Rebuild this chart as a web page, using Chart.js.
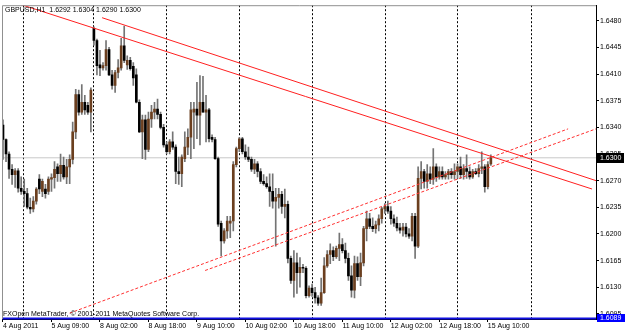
<!DOCTYPE html>
<html><head><meta charset="utf-8">
<script src="https://cdn.jsdelivr.net/npm/chart.js@4.4.0/dist/chart.umd.min.js"></script>
<style>html,body{margin:0;padding:0;background:#fff;}canvas{display:block;}</style>
</head><body>
<canvas id="c" width="625" height="332"></canvas>
<script>
const symbol = "GBPUSD,H1";
const copyright = "FXOpen MetaTrader, \u00A9 2001-2011 MetaQuotes Software Corp.";

const opens = [1.6343,1.6324,1.6305,1.6285,1.6278,1.6283,1.6260,1.6256,1.6253,1.6235,
1.6233,1.6243,1.6272,1.6256,1.6259,1.6256,1.6272,1.6274,1.6288,1.6279,
1.6290,1.6275,1.6288,1.6298,1.6334,1.6383,1.6360,1.6373,1.6369,1.6360,
1.6470,1.6454,1.6422,1.6418,1.6421,1.6442,1.6409,1.6395,1.6412,1.6418,
1.6447,1.6422,1.6428,1.6420,1.6409,1.6373,1.6334,1.6350,1.6311,1.6351,
1.6360,1.6364,1.6357,1.6340,1.6317,1.6308,1.6321,1.6314,1.6282,1.6279,
1.6299,1.6314,1.6327,1.6360,1.6364,1.6356,1.6373,1.6360,1.6363,1.6327,
1.6324,1.6299,1.6214,1.6191,1.6204,1.6214,1.6217,1.6291,1.6312,1.6325,
1.6308,1.6301,1.6298,1.6285,1.6292,1.6282,1.6269,1.6266,1.6262,1.6256,
1.6243,1.6248,1.6252,1.6236,1.6239,1.6168,1.6139,1.6162,1.6149,1.6156,
1.6155,1.6119,1.6129,1.6123,1.6116,1.6109,1.6123,1.6158,1.6173,1.6178,
1.6170,1.6181,1.6186,1.6178,1.6168,1.6145,1.6126,1.6161,1.6144,1.6162,
1.6207,1.6220,1.6210,1.6207,1.6212,1.6220,1.6233,1.6236,1.6230,1.6220,
1.6214,1.6208,1.6205,1.6209,1.6200,1.6197,1.6223,1.6184,1.6273,1.6282,
1.6269,1.6279,1.6272,1.6288,1.6275,1.6282,1.6275,1.6278,1.6282,1.6278,
1.6282,1.6288,1.6278,1.6286,1.6282,1.6275,1.6282,1.6279,1.6286,1.6288,
1.6262,1.6292];
const highs = [1.6350,1.6325,1.6308,1.6291,1.6286,1.6286,1.6275,1.6272,1.6260,1.6247,
1.6249,1.6261,1.6278,1.6272,1.6265,1.6275,1.6279,1.6295,1.6292,1.6305,
1.6301,1.6298,1.6304,1.6347,1.6390,1.6389,1.6396,1.6382,1.6373,1.6392,
1.6472,1.6456,1.6441,1.6425,1.6454,1.6445,1.6415,1.6415,1.6429,1.6457,
1.6473,1.6434,1.6432,1.6425,1.6417,1.6376,1.6356,1.6356,1.6360,1.6369,
1.6373,1.6377,1.6360,1.6344,1.6321,1.6324,1.6334,1.6317,1.6301,1.6304,
1.6334,1.6338,1.6373,1.6373,1.6399,1.6408,1.6407,1.6382,1.6365,1.6330,
1.6327,1.6301,1.6217,1.6207,1.6223,1.6223,1.6295,1.6314,1.6327,1.6327,
1.6317,1.6314,1.6301,1.6298,1.6295,1.6286,1.6278,1.6275,1.6279,1.6279,
1.6260,1.6260,1.6256,1.6259,1.6243,1.6171,1.6178,1.6175,1.6169,1.6160,
1.6157,1.6132,1.6134,1.6130,1.6119,1.6142,1.6169,1.6178,1.6187,1.6183,
1.6184,1.6201,1.6194,1.6188,1.6175,1.6158,1.6171,1.6170,1.6175,1.6210,
1.6230,1.6227,1.6221,1.6217,1.6225,1.6235,1.6240,1.6243,1.6236,1.6225,
1.6222,1.6214,1.6214,1.6214,1.6207,1.6227,1.6227,1.6288,1.6295,1.6285,
1.6291,1.6288,1.6312,1.6292,1.6288,1.6288,1.6282,1.6285,1.6286,1.6292,
1.6292,1.6301,1.6291,1.6304,1.6288,1.6285,1.6286,1.6291,1.6308,1.6291,
1.6295,1.6304];
const lows = [1.6298,1.6295,1.6273,1.6265,1.6261,1.6255,1.6252,1.6236,1.6233,1.6227,
1.6229,1.6239,1.6253,1.6249,1.6247,1.6252,1.6256,1.6260,1.6269,1.6269,
1.6272,1.6266,1.6266,1.6292,1.6325,1.6356,1.6357,1.6357,1.6357,1.6334,
1.6448,1.6409,1.6408,1.6415,1.6415,1.6408,1.6390,1.6386,1.6405,1.6415,
1.6425,1.6416,1.6415,1.6395,1.6372,1.6333,1.6299,1.6298,1.6308,1.6340,
1.6351,1.6351,1.6338,1.6314,1.6305,1.6305,1.6311,1.6266,1.6265,1.6262,
1.6295,1.6304,1.6299,1.6312,1.6325,1.6317,1.6360,1.6321,1.6321,1.6321,
1.6298,1.6210,1.6171,1.6188,1.6194,1.6195,1.6204,1.6288,1.6308,1.6305,
1.6298,1.6295,1.6282,1.6279,1.6275,1.6266,1.6264,1.6260,1.6236,1.6234,
1.6184,1.6234,1.6227,1.6221,1.6162,1.6135,1.6117,1.6122,1.6130,1.6149,
1.6116,1.6117,1.6118,1.6109,1.6106,1.6106,1.6122,1.6156,1.6161,1.6165,
1.6168,1.6165,1.6175,1.6162,1.6139,1.6117,1.6116,1.6139,1.6132,1.6158,
1.6191,1.6207,1.6203,1.6201,1.6204,1.6214,1.6227,1.6227,1.6213,1.6210,
1.6204,1.6201,1.6197,1.6196,1.6194,1.6191,1.6168,1.6182,1.6259,1.6260,
1.6260,1.6266,1.6265,1.6269,1.6272,1.6272,1.6272,1.6272,1.6273,1.6272,
1.6273,1.6273,1.6272,1.6273,1.6272,1.6273,1.6278,1.6275,1.6279,1.6255,
1.6259,1.6290];
const closes = [1.6324,1.6305,1.6285,1.6278,1.6283,1.6260,1.6256,1.6253,1.6235,1.6233,
1.6243,1.6259,1.6259,1.6269,1.6253,1.6272,1.6274,1.6285,1.6279,1.6290,
1.6275,1.6288,1.6298,1.6334,1.6383,1.6360,1.6373,1.6363,1.6360,1.6389,
1.6454,1.6421,1.6418,1.6421,1.6442,1.6409,1.6395,1.6412,1.6418,1.6447,
1.6428,1.6428,1.6417,1.6405,1.6373,1.6334,1.6350,1.6311,1.6351,1.6360,
1.6364,1.6357,1.6340,1.6317,1.6308,1.6321,1.6314,1.6282,1.6279,1.6301,
1.6314,1.6327,1.6363,1.6364,1.6356,1.6373,1.6360,1.6363,1.6325,1.6324,
1.6299,1.6213,1.6191,1.6204,1.6217,1.6217,1.6291,1.6312,1.6325,1.6308,
1.6301,1.6298,1.6285,1.6292,1.6282,1.6269,1.6266,1.6262,1.6256,1.6243,
1.6248,1.6252,1.6236,1.6239,1.6168,1.6139,1.6162,1.6149,1.6156,1.6155,
1.6119,1.6129,1.6123,1.6116,1.6109,1.6123,1.6158,1.6173,1.6178,1.6170,
1.6181,1.6186,1.6178,1.6168,1.6145,1.6126,1.6161,1.6144,1.6162,1.6207,
1.6220,1.6210,1.6207,1.6212,1.6220,1.6233,1.6236,1.6230,1.6220,1.6214,
1.6208,1.6205,1.6209,1.6200,1.6197,1.6223,1.6184,1.6273,1.6282,1.6269,
1.6279,1.6272,1.6288,1.6275,1.6282,1.6275,1.6278,1.6282,1.6278,1.6282,
1.6288,1.6278,1.6286,1.6282,1.6275,1.6282,1.6279,1.6286,1.6288,1.6262,
1.6291,1.6300];

const xTickIndex = [0,16,32,48,64,80,96,112,128,144,160];
const xTickLabels = ["4 Aug 2011","5 Aug 09:00","8 Aug 02:00","8 Aug 18:00","9 Aug 10:00","10 Aug 02:00","10 Aug 18:00","11 Aug 10:00","12 Aug 02:00","12 Aug 18:00","15 Aug 10:00"];
const yTickValues = [1.6095,1.6130,1.6165,1.6200,1.6235,1.6270,1.6305,1.6340,1.6375,1.6410,1.6445,1.6480];
const gridIndex = [6.7,29.8,53.8,78,102,126.2,150.1,174.5];

// drawn objects (bar index, price)
const trendSolidA = [{x:3, y:1.6505},{x:194.4, y:1.6259}];
const trendSolidB = [{x:32.7, y:1.6484},{x:195.7, y:1.6270}];
const trendDashC  = [{x:22, y:1.6096},{x:186.5, y:1.6338}];
const trendDashD  = [{x:66.7, y:1.6152},{x:195.7, y:1.6338}];
const hLinePrice = 1.6089;

const xMin = -0.33, xMax = 195.7;
const yMin = 1.60883, yMax = 1.65004;

const FONT = '"Liberation Sans", Arial, sans-serif';
const BULL = '#6b3f1f', BEAR = '#000000', WICK = '#747474';
const last = closes.length - 1;
const idx = closes.map((_, i) => i);

const overlay = {
  id: 'overlay',
  afterDraw(chart) {
    const {ctx, chartArea: a, scales: {y}} = chart;
    ctx.save();
    ctx.strokeStyle = '#909090'; ctx.lineWidth = 1;
    ctx.beginPath();
    ctx.moveTo(a.left + 0.5, a.bottom); ctx.lineTo(a.left + 0.5, a.top + 0.5); ctx.lineTo(a.right, a.top + 0.5);
    ctx.stroke();
    ctx.font = '7px ' + FONT; ctx.fillStyle = '#000'; ctx.textAlign = 'left'; ctx.textBaseline = 'alphabetic';
    ctx.fillText(symbol + '  ' + opens[last].toFixed(4) + ' ' + highs[last].toFixed(4) + ' ' + lows[last].toFixed(4) + ' ' + closes[last].toFixed(4), 5, 11.5);
    ctx.fillText(copyright, 3, 315.5);
    const yb = Math.round(y.getPixelForValue(closes[last]));
    ctx.fillStyle = '#000'; ctx.fillRect(a.right + 1, yb - 5, 27, 10);
    ctx.fillStyle = '#fff'; ctx.textBaseline = 'middle';
    ctx.fillText(closes[last].toFixed(4), a.right + 4, yb + 0.5);
    const yh = Math.round(y.getPixelForValue(hLinePrice));
    ctx.fillStyle = '#0000ff'; ctx.fillRect(a.right + 1, yh - 4, 28, 8);
    ctx.fillStyle = '#fff';
    ctx.fillText(hLinePrice.toFixed(4), a.right + 4, yh + 0.5);
    ctx.restore();
  }
};

const lineDs = (data, color, dash, order, width) => ({
  type: 'line', data, borderColor: color, borderWidth: width || 1, borderDash: dash || [],
  pointRadius: 0, fill: false, tension: 0, order, xAxisID: 'x', yAxisID: 'y'
});

new Chart(document.getElementById('c'), {
  type: 'bar',
  data: {
    datasets: [
      lineDs(trendSolidA, '#ff2020', null, 0),
      lineDs(trendSolidB, '#ff2020', null, 0),
      lineDs(trendDashC, '#ff3030', [3,2], 0),
      lineDs(trendDashD, '#ff3030', [3,2], 0),
      Object.assign(lineDs([{x:xMin,y:hLinePrice},{x:xMax,y:hLinePrice}], '#1010e0', null, 0, 2), {clip: false}),
      {
        type: 'bar', label: 'body', order: 1, grouped: false, xAxisID: 'x', yAxisID: 'y',
        data: idx.map(i => ({x: i, y: [opens[i], closes[i]]})),
        backgroundColor: idx.map(i => closes[i] > opens[i] ? BULL : BEAR),
        borderWidth: 0, barThickness: 2, minBarLength: 1
      },
      {
        type: 'bar', label: 'wick', order: 2, grouped: false, xAxisID: 'x', yAxisID: 'y',
        data: idx.map(i => ({x: i, y: [lows[i], highs[i]]})),
        backgroundColor: WICK, borderWidth: 0, barThickness: 1, minBarLength: 1
      },
      lineDs([{x:xMin,y:closes[last]},{x:xMax,y:closes[last]}], '#c8c8c8', null, 3)
    ]
  },
  options: {
    responsive: false, animation: false, devicePixelRatio: 1,
    layout: {padding: {left: 2, top: 2, right: 0, bottom: 0}, autoPadding: false},
    plugins: {legend: {display: false}, tooltip: {enabled: false}},
    scales: {
      x: {
        type: 'linear', axis: 'x', position: 'bottom', min: xMin, max: xMax, offset: false,
        grid: {offset: false, drawOnChartArea: false, drawTicks: true, tickLength: 3, color: '#000'},
        border: {display: true, color: '#000', width: 1},
        ticks: {autoSkip: false, maxRotation: 0, minRotation: 0, align: 'start', padding: 0,
          font: {family: FONT, size: 7}, color: '#000',
          callback: (v, i) => xTickLabels[i]},
        afterBuildTicks: s => { s.ticks = xTickIndex.map(v => ({value: v})); },
        afterFit: s => { s.height = 13; }
      },
      xg: {
        type: 'linear', axis: 'x', position: 'bottom', min: xMin, max: xMax, offset: false,
        grid: {offset: false, drawOnChartArea: true, drawTicks: false, color: '#000', lineWidth: 1},
        border: {display: false, dash: [2,2]},
        ticks: {display: false},
        afterBuildTicks: s => { s.ticks = gridIndex.map(v => ({value: v})); },
        afterFit: s => { s.height = 0; }
      },
      y: {
        type: 'linear', position: 'right', min: yMin, max: yMax, beginAtZero: false,
        grid: {drawOnChartArea: false, drawTicks: true, tickLength: 3, color: '#000'},
        border: {display: true, color: '#000'},
        ticks: {autoSkip: false, padding: 1, font: {family: FONT, size: 7}, color: '#000',
          callback: v => v.toFixed(4)},
        afterBuildTicks: s => { s.ticks = yTickValues.map(v => ({value: v})); },
        afterFit: s => { s.width = 29; }
      }
    }
  },
  plugins: [overlay]
});
</script>
</body></html>
